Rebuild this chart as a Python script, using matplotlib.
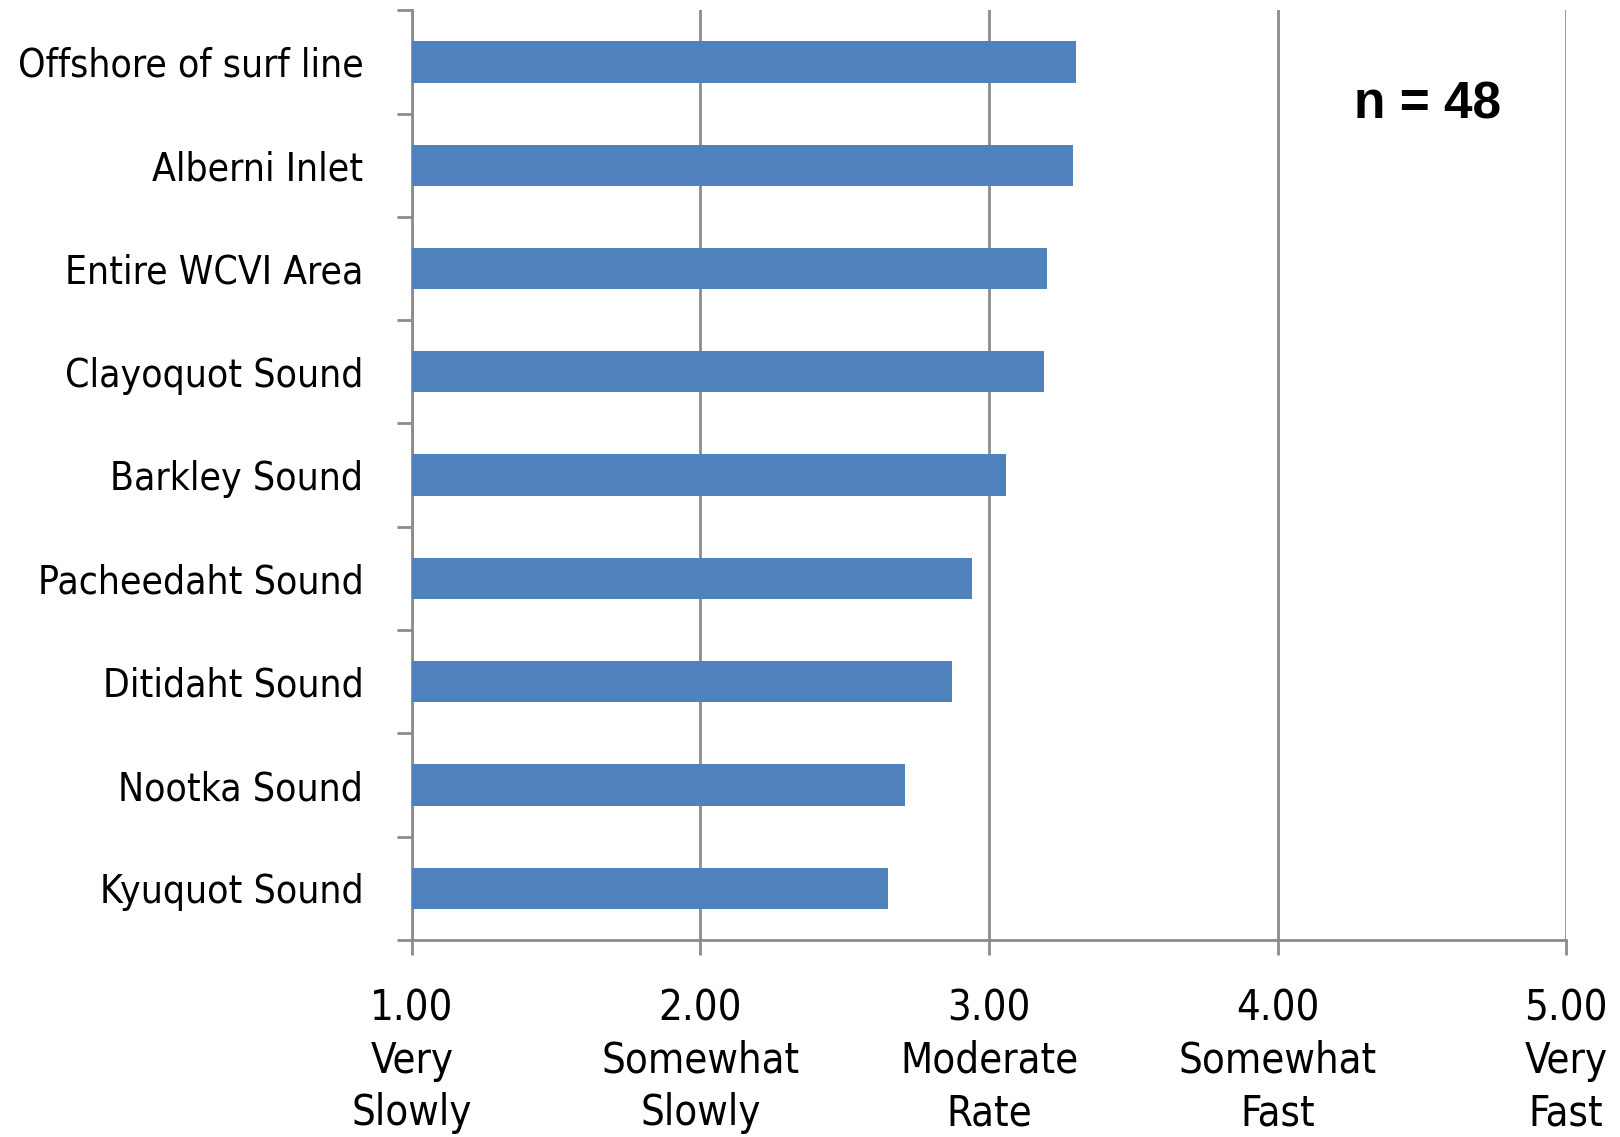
import matplotlib
matplotlib.use('Agg')
import matplotlib.pyplot as plt
import numpy as np

# Survey regions (top to bottom) and their mean rating
regions = ['Offshore of surf line', 'Alberni Inlet', 'Entire WCVI Area',
           'Clayoquot Sound', 'Barkley Sound', 'Pacheedaht Sound',
           'Ditidaht Sound', 'Nootka Sound', 'Kyuquot Sound']
mean_rate = [3.30, 3.29, 3.20, 3.19, 3.06, 2.94, 2.87, 2.71, 2.65]

scale_ticks = [1, 2, 3, 4, 5]
scale_labels = ['1.00\nVery\nSlowly', '2.00\nSomewhat\nSlowly', '3.00\nModerate\nRate',
                '4.00\nSomewhat\nFast', '5.00\nVery\nFast']
n_label = 'n = 48'

narrow = ['DejaVu Sans']
grey = '#8c8c8c'
bar_blue = '#4f81bd'

fig = plt.figure(figsize=(16.2, 11.37), dpi=100)
ax = fig.add_axes([0.2543, 0.1733, 0.9667 - 0.2543, 0.991 - 0.1733])

y = np.arange(len(regions))
ax.barh(y, np.array(mean_rate) - 1, left=1, height=0.4, color=bar_blue, zorder=3)

ax.set_xlim(1, 5)
ax.set_ylim(len(regions) - 0.5, -0.5)

# vertical gridlines at each scale point
ax.set_xticks(scale_ticks)
ax.set_xticklabels(scale_labels, fontsize=30, family=narrow, fontstretch='condensed',
                   linespacing=1.32)
ax.grid(axis='x', color=grey, linewidth=2, zorder=1)
ax.tick_params(axis='x', length=11, width=2, color=grey, pad=23)

# category labels centred on bars, tick marks between categories
ax.set_yticks(y)
ax.set_yticklabels(regions, fontsize=28, family=narrow, fontstretch='condensed')
ax.tick_params(axis='y', which='major', length=0, pad=35)
ax.set_yticks(np.arange(len(regions) + 1) - 0.5, minor=True)
ax.tick_params(axis='y', which='minor', length=11, width=2, color=grey)

for side in ['top', 'right']:
    ax.spines[side].set_visible(False)
for side in ['left', 'bottom']:
    ax.spines[side].set_color(grey)
    ax.spines[side].set_linewidth(2)

fig.text(1428 / 1620, 1 - 105 / 1137, n_label, fontsize=37, fontweight='bold',
         family=['Liberation Sans', 'DejaVu Sans'], ha='center', va='center')

fig.savefig('out.png', dpi=100)
